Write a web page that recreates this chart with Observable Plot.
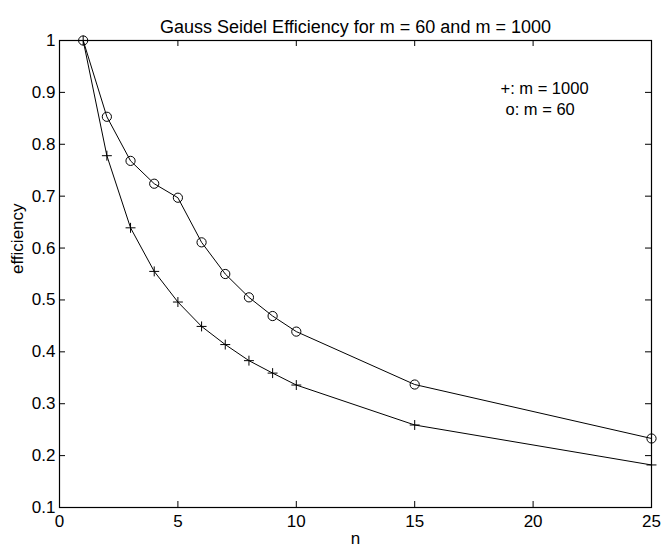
<!DOCTYPE html>
<html><head><meta charset="utf-8">
<script src="https://cdn.jsdelivr.net/npm/d3@7"></script>
<script src="https://cdn.jsdelivr.net/npm/@observablehq/plot@0.6"></script>
<style>body{margin:0;background:#fff}</style>
</head><body><div id="chart"></div>
<script>
// Data
const nValues = [1, 2, 3, 4, 5, 6, 7, 8, 9, 10, 15, 25];
const effM60 = [1.0, 0.853, 0.768, 0.724, 0.697, 0.611, 0.550, 0.505, 0.469, 0.439, 0.337, 0.233];
const effM1000 = [1.0, 0.778, 0.639, 0.555, 0.496, 0.449, 0.414, 0.383, 0.359, 0.336, 0.259, 0.182];
const xTicks = [0, 5, 10, 15, 20, 25];
const yTicks = [0.1, 0.2, 0.3, 0.4, 0.5, 0.6, 0.7, 0.8, 0.9, 1.0];
const titleText = "Gauss Seidel Efficiency for m = 60 and m = 1000";
const xLabel = "n";
const yLabel = "efficiency";
const legendPlus = "+: m = 1000";
const legendCircle = "o: m = 60";

const rows = nValues.map((n, i) => ({n, m60: effM60[i], m1000: effM1000[i]}));

const W = 663, H = 552;
const mL = 59, mR = 12, mT = 40, mB = 45;
const innerW = W - mL - mR, innerH = H - mT - mB;
const tick = 6;
const font = "'Liberation Sans', Arial, Helvetica, sans-serif";
const fs = 17;

const chart = Plot.plot({
  width: W, height: H,
  marginLeft: mL, marginRight: mR, marginTop: mT, marginBottom: mB,
  style: {fontFamily: font, fontSize: fs + "px", background: "#fff", color: "#000"},
  x: {domain: [0, 25]},
  y: {domain: [0.1, 1.0]},
  marks: [
    Plot.frame({stroke: "black", strokeWidth: 1.2}),
    Plot.ruleX(xTicks, {x: d => d, insetTop: innerH - tick, stroke: "black"}),
    Plot.ruleX(xTicks, {x: d => d, insetBottom: innerH - tick, stroke: "black"}),
    Plot.ruleY(yTicks, {y: d => d, insetRight: innerW - tick, stroke: "black"}),
    Plot.ruleY(yTicks, {y: d => d, insetLeft: innerW - tick, stroke: "black"}),
    Plot.axisX({ticks: xTicks, tickSize: 0, tickPadding: 7, label: null, fontSize: fs}),
    Plot.axisY({ticks: yTicks, tickSize: 0, tickPadding: 4, label: null, fontSize: fs,
      tickFormat: d => String(+d.toFixed(1))}),
    Plot.line(rows, {x: "n", y: "m60", stroke: "black", strokeWidth: 1}),
    Plot.line(rows, {x: "n", y: "m1000", stroke: "black", strokeWidth: 1}),
    Plot.dot(rows, {x: "n", y: "m60", symbol: "circle", r: 4.6, stroke: "black", fill: "none", strokeWidth: 1}),
    Plot.dot(rows, {x: "n", y: "m1000", symbol: "plus", r: 3.3, stroke: "black", fill: "none", strokeWidth: 1}),
    Plot.text([titleText], {text: d => d, frameAnchor: "top", dy: -20, fontSize: 18, fill: "black"}),
    Plot.text([xLabel], {text: d => d, frameAnchor: "bottom", dy: 36, fontSize: fs, fill: "black"}),
    Plot.text([yLabel], {text: d => d, frameAnchor: "left", dx: -42, rotate: -90, fontSize: fs, fill: "black"}),
    Plot.text([legendPlus], {text: d => d, frameAnchor: "top-right", textAnchor: "start", dx: -151, dy: 42, fontSize: 16.5, fill: "black"}),
    Plot.text([legendCircle], {text: d => d, frameAnchor: "top-right", textAnchor: "start", dx: -146, dy: 63, fontSize: 16.5, fill: "black"})
  ]
});
document.getElementById("chart").appendChild(chart);
</script>
</body></html>
